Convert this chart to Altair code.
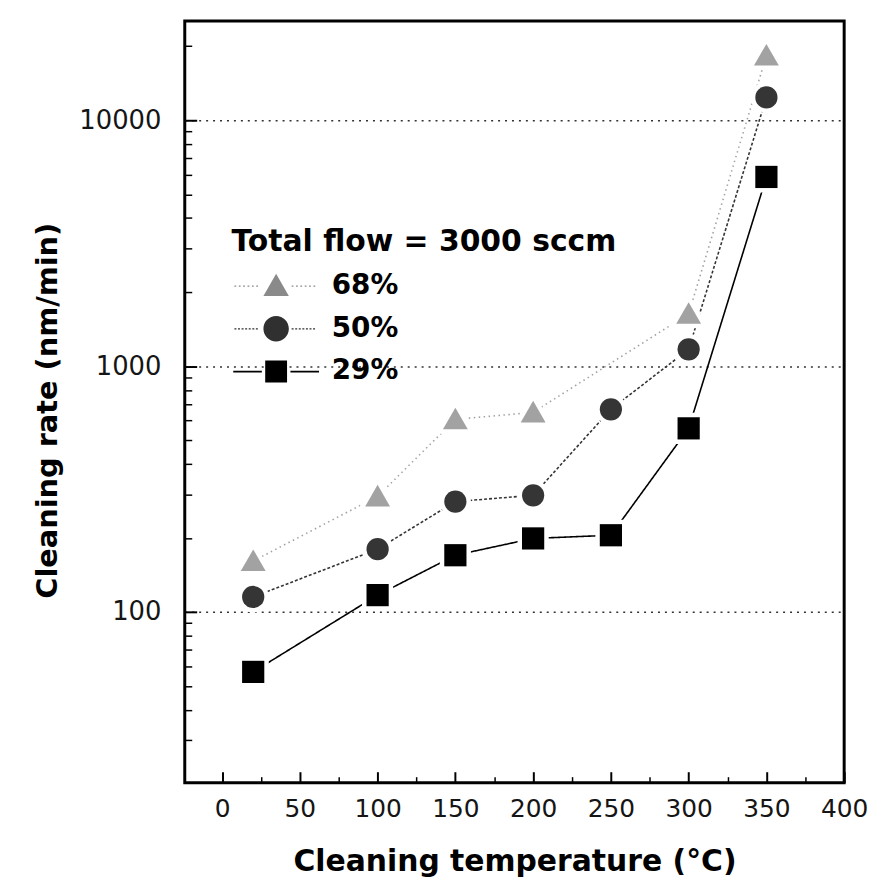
import altair as alt
import pandas as pd

# ---------------- data ----------------
temps = [20, 100, 150, 200, 250, 300, 350]
rate_68 = [161, 295, 607, 648, None, 1631, 18330]
rate_50 = [115, 180, 281, 298, 667, 1170, 12390]
rate_29 = [57, 117, 170, 199, 205, 558, 5880]
series = ["68%", "50%", "29%"]

x_major = [0, 50, 100, 150, 200, 250, 300, 350, 400]
x_minor = [25, 75, 125, 175, 225, 275, 325, 375]
y_major = [100, 1000, 10000]
y_minor = [30, 40, 50, 60, 70, 80, 90,
           200, 300, 400, 500, 600, 700, 800, 900,
           2000, 3000, 4000, 5000, 6000, 7000, 8000, 9000, 20000]

# ---------------- styles ----------------
W, H = 664, 767
FONT = "DejaVu Sans"
marker_colors = ["#a2a2a2", "#353535", "#000000"]
legend_colors = ["#8a8a8a", "#303030", "#000000"]
dashes = [[1.5, 3.5], [3, 2], [1, 0]]
TRI = "M0,-1.05L1.12,0.9L-1.12,0.9Z"
plot_shapes = [TRI, "circle", "square"]


def dotted(x0, x1, dot, period, th):
    out = []
    x = x0
    while x + dot <= x1 + 1e-9:
        out.append(f"M{x:.2f},{-th / 2:.2f}h{dot:.2f}v{th:.2f}h{-dot:.2f}Z")
        x += period
    return "".join(out)


leg_tri = (dotted(-10.5, -3.9, 0.45, 1.1, 0.32) + "M0,-3.1L3.2,2.5L-3.2,2.5Z"
           + dotted(3.9, 10.5, 0.45, 1.1, 0.32))
leg_circ = (dotted(-10.5, -3.9, 0.5, 0.9, 0.32)
            + "M-3.2,0A3.2,3.2 0 1,0 3.2,0A3.2,3.2 0 1,0 -3.2,0Z"
            + dotted(3.9, 10.5, 0.5, 0.9, 0.32))
leg_sq = ("M-10.8,-0.22H-3.6V0.22H-10.8Z" + "M-2.75,-2.75H2.75V2.75H-2.75Z"
          + "M3.6,-0.22H10.8V0.22H3.6Z")
legend_paths = [leg_tri, leg_circ, leg_sq]

rows = []
for s, vals in zip(series, [rate_68, rate_50, rate_29]):
    for t, v in zip(temps, vals):
        if v is not None:
            rows.append({"temp": t, "rate": v, "series": s})
df = pd.DataFrame(rows)

xs = alt.Scale(domain=[-24, 400], nice=False, zero=False)
ys = alt.Scale(type="log", domain=[20.2, 25350], nice=False)


def tick_axis(orient, values, size, offset, width):
    return alt.Axis(orient=orient, values=values, offset=offset, ticks=True,
                    tickSize=size, tickWidth=width, tickColor="black",
                    labels=False, domain=False, grid=False, title="")


x_label_axis = alt.Axis(
    orient="bottom", values=x_major, format="d", ticks=False, domain=False,
    grid=False, labelFont=FONT, labelFontSize=25, labelColor="#151515",
    labelPadding=14, labelFlush=False, labelOverlap=False,
    title="Cleaning temperature (°C)", titleFont=FONT, titleFontSize=30,
    titleFontWeight="bold", titleColor="black", titleX=W / 2, titleY=88,
    titleAlign="center", titleBaseline="alphabetic")

y_label_axis = alt.Axis(
    orient="left", values=y_major, format="d", ticks=False, domain=False,
    grid=True, gridDash=[2, 5], gridColor="#333", gridWidth=1.5,
    labelFont=FONT, labelFontSize=26, labelColor="#151515", labelPadding=24,
    labelOverlap=False, labelFlush=False,
    title="Cleaning rate (nm/min)", titleFont=FONT, titleFontSize=29,
    titleFontWeight="bold", titleColor="black", titleX=-138, titleY=392,
    titleAngle=270, titleAlign="center", titleBaseline="middle")

color = alt.Color("series:N", scale=alt.Scale(domain=series, range=marker_colors),
                  legend=None)

base = alt.Chart(df)

lines = base.mark_line(strokeWidth=1.6).encode(
    x=alt.X("temp:Q", scale=xs, axis=x_label_axis),
    y=alt.Y("rate:Q", scale=ys, axis=y_label_axis),
    color=color,
    strokeDash=alt.StrokeDash("series:N", scale=alt.Scale(domain=series, range=dashes),
                              legend=None),
)

halo = base.mark_point(filled=True, size=500, fill="white", stroke="white",
                       strokeWidth=9, opacity=1).encode(
    x=alt.X("temp:Q", scale=xs, axis=tick_axis("top", x_major, 11, -H, 2)),
    y=alt.Y("rate:Q", scale=ys, axis=tick_axis("right", y_major, 12, -W, 2)),
    shape=alt.Shape("series:N", scale=alt.Scale(domain=series, range=plot_shapes),
                    legend=None),
)

points = base.mark_point(filled=True, size=500, opacity=1, strokeWidth=0).encode(
    x=alt.X("temp:Q", scale=xs, axis=tick_axis("top", x_minor, 6, -H, 1.5)),
    y=alt.Y("rate:Q", scale=ys, axis=tick_axis("right", y_minor, 7, -W, 1.5)),
    color=color,
    shape=alt.Shape("series:N", scale=alt.Scale(domain=series, range=plot_shapes),
                    legend=None),
)

leg = alt.Legend(
    title="Total flow = 3000 sccm", orient="none", legendX=47, legendY=208,
    padding=0, titleFont=FONT, titleFontSize=30, titleFontWeight="bold",
    titleColor="black", titlePadding=15, titleLimit=600,
    labelFont=FONT, labelFontSize=28, labelFontWeight="bold", labelColor="black",
    symbolSize=64, symbolStrokeWidth=0, symbolOpacity=1, symbolOffset=31,
    labelOffset=42, rowPadding=15)

hidden = base.mark_point(filled=True, size=64, opacity=0).encode(
    x=alt.X("temp:Q", scale=xs, axis=None),
    y=alt.Y("rate:Q", scale=ys, axis=None),
    fill=alt.Fill("series:N", scale=alt.Scale(domain=series, range=legend_colors),
                  legend=leg),
    shape=alt.Shape("series:N", scale=alt.Scale(domain=series, range=legend_paths),
                    legend=leg),
)

chart = (
    alt.layer(lines, halo, points, hidden)
    .resolve_scale(shape="independent", fill="independent")
    .resolve_axis(x="independent", y="independent")
    .properties(width=W, height=H,
                padding={"left": 178, "top": 10, "right": 24, "bottom": 95},
                autosize=alt.AutoSizeParams(type="none"))
    .configure_view(stroke="black", strokeWidth=3)
)

chart.save("out.html", embed_options={"renderer": "svg", "actions": False})
